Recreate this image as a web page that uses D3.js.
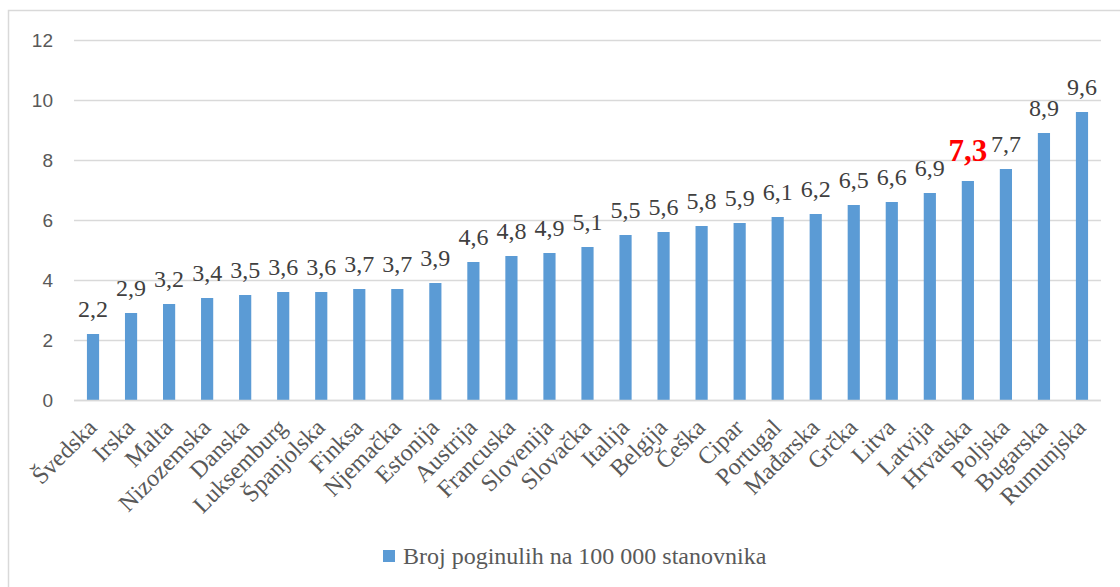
<!DOCTYPE html>
<html><head><meta charset="utf-8">
<script src="https://cdn.jsdelivr.net/npm/d3@7"></script>
<style>body{margin:0;background:#fff}svg{display:block}</style>
</head><body>
<svg id="c" width="1120" height="587"></svg>
<script>
const categories = ["Švedska","Irska","Malta","Nizozemska","Danska","Luksemburg","Španjolska","Finksa","Njemačka","Estonija","Austrija","Francuska","Slovenija","Slovačka","Italija","Belgija","Češka","Cipar","Portugal","Mađarska","Grčka","Litva","Latvija","Hrvatska","Poljska","Bugarska","Rumunjska"];
const values = [2.2,2.9,3.2,3.4,3.5,3.6,3.6,3.7,3.7,3.9,4.6,4.8,4.9,5.1,5.5,5.6,5.8,5.9,6.1,6.2,6.5,6.6,6.9,7.3,7.7,8.9,9.6];
const yTicks = [0,2,4,6,8,10,12];
const seriesName = "Broj poginulih na 100 000 stanovnika";
const highlight = "Hrvatska";

const svg = d3.select("#c");
const fmt = v => String(v).replace(".", ",");
// border
svg.append("path").attr("d","M8.5,587V10.5H1120").attr("fill","none").attr("stroke","#d9d9d9").attr("stroke-width",1.5);

const x = d3.scaleBand().domain(categories).range([74,1101]).paddingInner(0.68).paddingOuter(0.34);
const y = d3.scaleLinear().domain([0,12]).range([400,40]);

const gy = svg.append("g").attr("transform","translate(74,0)")
  .call(d3.axisLeft(y).tickValues(yTicks).tickSize(-1027).tickPadding(21).tickFormat(d=>d));
gy.select(".domain").remove();
gy.selectAll(".tick line").attr("stroke","#d9d9d9").attr("stroke-width",1.3);
gy.selectAll(".tick text").attr("fill","#595959").style("font-family","'Liberation Sans',Arial,sans-serif").style("font-size","19px");

svg.append("g").selectAll("rect").data(values).join("rect")
  .attr("x",(d,i)=>x(categories[i])).attr("width",x.bandwidth())
  .attr("y",d=>y(d)).attr("height",d=>y(0)-y(d)).attr("fill","#5b9bd5");

svg.append("g").selectAll("text").data(values).join("text")
  .attr("x",(d,i)=>x(categories[i])+x.bandwidth()/2)
  .attr("y",(d,i)=>y(d)-(categories[i]===highlight?20:17))
  .attr("text-anchor","middle")
  .style("font-family","'Liberation Serif','Times New Roman',serif")
  .style("font-size",(d,i)=>categories[i]===highlight?"31px":"24px")
  .style("font-weight",(d,i)=>categories[i]===highlight?"bold":"normal")
  .attr("fill",(d,i)=>categories[i]===highlight?"#ff0000":"#404040")
  .text(d=>fmt(d));

const gx = svg.append("g").attr("transform","translate(0,400)")
  .call(d3.axisBottom(x).tickSize(0).tickPadding(0));
gx.select(".domain").attr("stroke","#d9d9d9").attr("stroke-width",1.3).attr("d","M74,0.5H1101");
gx.selectAll(".tick text").attr("fill","#595959")
  .style("font-family","'Liberation Serif','Times New Roman',serif").style("font-size","24px")
  .attr("text-anchor","end").attr("dy","0").attr("y",0)
  .attr("transform","translate(5,29) rotate(-45)");

const lg = svg.append("g");
lg.append("rect").attr("x",383).attr("y",550).attr("width",12).attr("height",12).attr("fill","#5b9bd5");
lg.append("text").attr("x",403).attr("y",564).attr("fill","#595959")
  .style("font-family","'Liberation Serif','Times New Roman',serif").style("font-size","24px").text(seriesName);
</script>
</body></html>
